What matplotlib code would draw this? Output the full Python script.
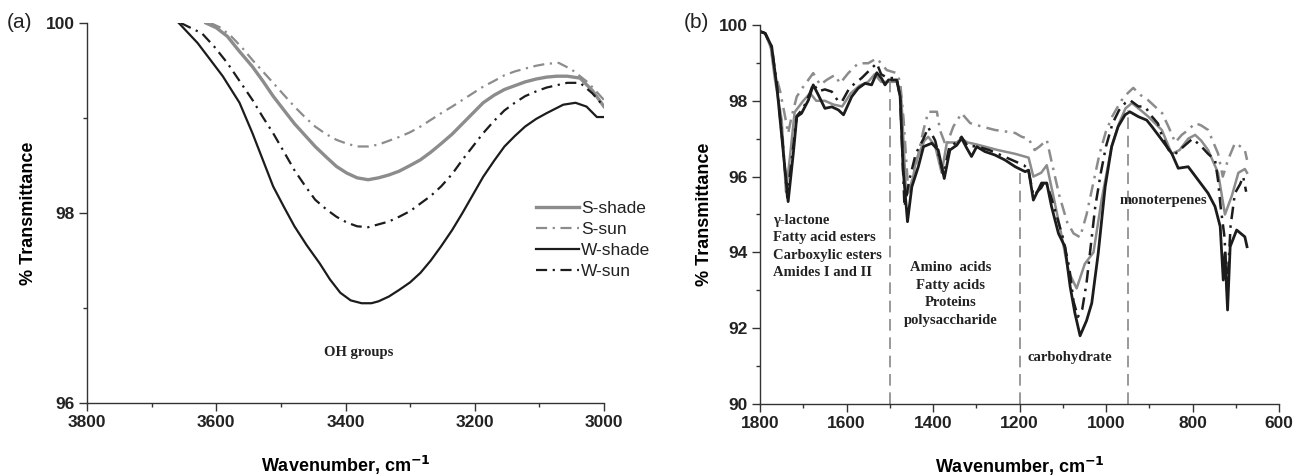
import matplotlib
matplotlib.use('Agg')
import matplotlib.pyplot as plt
from matplotlib.ticker import MultipleLocator

plt.rcParams['font.family'] = ['Liberation Sans', 'DejaVu Sans']

GRAY = '#8c8c8c'
BLACK = '#1c1c1c'
DASHDOT = (0, (5, 2.5, 1, 2.5))

# ---- panel (a): OH region ----
a_s_shade_x = [3616, 3600, 3583, 3564, 3544, 3528, 3512, 3495, 3479, 3463, 3447, 3430, 3414, 3398, 3382,
               3365, 3349, 3333, 3317, 3300, 3284, 3268, 3252, 3235, 3219, 3203, 3187, 3170, 3154,
               3138, 3122, 3105, 3089, 3073, 3057, 3037, 3018, 3000]
a_s_shade_y = [100.0, 99.95, 99.86, 99.70, 99.54, 99.39, 99.23, 99.08, 98.94, 98.82, 98.70, 98.59, 98.49, 98.42,
               98.37, 98.35, 98.37, 98.40, 98.44, 98.50, 98.56, 98.64, 98.73, 98.83, 98.94, 99.05, 99.16, 99.24,
               99.30, 99.34, 99.38, 99.41, 99.43, 99.44, 99.44, 99.42, 99.29, 99.12]

a_s_sun_x = [3609, 3593, 3577, 3560, 3544, 3528, 3512, 3495, 3479, 3463, 3447, 3430, 3414, 3398, 3382,
             3365, 3349, 3333, 3317, 3300, 3284, 3268, 3252, 3235, 3219, 3203, 3187, 3170, 3154,
             3138, 3122, 3105, 3089, 3070, 3050, 3024, 3000]
a_s_sun_y = [100.0, 99.95, 99.86, 99.74, 99.61, 99.49, 99.37, 99.24, 99.12, 99.01, 98.91, 98.83, 98.77, 98.73,
             98.70, 98.70, 98.72, 98.76, 98.80, 98.85, 98.91, 98.98, 99.05, 99.12, 99.19, 99.26, 99.33, 99.39,
             99.45, 99.49, 99.52, 99.55, 99.57, 99.58, 99.51, 99.37, 99.19]

a_w_shade_x = [3658, 3629, 3610, 3590, 3564, 3544, 3528, 3512, 3495, 3479, 3460, 3440, 3424, 3408, 3392,
               3375, 3360, 3349, 3333, 3317, 3300, 3284, 3268, 3252, 3235, 3219, 3203, 3187, 3170, 3154,
               3138, 3122, 3105, 3089, 3063, 3044, 3027, 3011, 3000]
a_w_shade_y = [100.0, 99.79, 99.62, 99.44, 99.16, 98.84, 98.56, 98.28, 98.06, 97.86, 97.66, 97.47, 97.30, 97.16, 97.08,
               97.05, 97.05, 97.07, 97.12, 97.19, 97.27, 97.37, 97.50, 97.65, 97.82, 98.00, 98.19, 98.38, 98.55, 98.70,
               98.81, 98.91, 98.99, 99.05, 99.14, 99.16, 99.12, 99.01, 99.01]

a_w_sun_x = [3655, 3622, 3603, 3583, 3564, 3544, 3528, 3512, 3495, 3479, 3463, 3447, 3430, 3414, 3398,
             3382, 3365, 3349, 3333, 3317, 3300, 3284, 3268, 3252, 3235, 3219, 3203, 3187, 3170, 3154,
             3138, 3122, 3105, 3089, 3057, 3037, 3018, 3000]
a_w_sun_y = [100.0, 99.89, 99.75, 99.58, 99.39, 99.19, 99.01, 98.84, 98.64, 98.45, 98.29, 98.14, 98.04, 97.96, 97.90,
             97.86, 97.85, 97.88, 97.91, 97.96, 98.02, 98.10, 98.18, 98.28, 98.41, 98.56, 98.70, 98.84, 98.97, 99.08,
             99.16, 99.23, 99.28, 99.32, 99.37, 99.37, 99.26, 99.12]

# ---- panel (b): fingerprint region ----
b_w_shade_x = [1800, 1788, 1773, 1761, 1746, 1735, 1723, 1715, 1704, 1688, 1677, 1665, 1650, 1634, 1619,
               1607, 1588, 1573, 1557, 1542, 1530, 1519, 1511, 1503, 1484, 1476, 1469, 1459, 1449, 1434,
               1422, 1403, 1388, 1374, 1361, 1345, 1334, 1322, 1311, 1299, 1280, 1257, 1234, 1210, 1187,
               1179, 1168, 1149, 1137, 1126, 1110, 1095, 1083, 1072, 1060, 1045, 1033, 1018, 1002, 987,
               972, 956, 945, 925, 906, 894, 871, 848, 833, 810, 787, 764, 748, 736, 729, 725, 719, 713,
               698, 679, 674]
b_w_shade_y = [99.83, 99.78, 99.43, 98.37, 96.62, 95.34, 96.62, 97.58, 97.67, 98.02, 98.42, 98.15, 97.80, 97.84, 97.76,
               97.63, 98.11, 98.33, 98.46, 98.42, 98.74, 98.59, 98.42, 98.55, 98.55, 98.11, 96.17, 94.81, 95.73, 96.26,
               96.79, 96.88, 96.70, 95.95, 96.70, 96.83, 97.01, 96.75, 96.53, 96.79, 96.66, 96.57, 96.44, 96.26, 96.13,
               96.17, 95.38, 95.83, 95.83, 95.21, 94.50, 94.15, 93.10, 92.40, 91.80, 92.20, 92.66, 93.98, 95.73, 96.79,
               97.32, 97.63, 97.71, 97.58, 97.49, 97.32, 96.97, 96.61, 96.22, 96.26, 95.91, 95.56, 95.21, 94.68, 93.27,
               93.98, 92.48, 94.15, 94.59, 94.41, 94.15]

b_w_sun_x = [1800, 1788, 1773, 1761, 1746, 1737, 1723, 1715, 1700, 1685, 1677, 1665, 1650, 1634, 1620,
             1611, 1595, 1581, 1565, 1550, 1530, 1520, 1505, 1484, 1476, 1466, 1455, 1440, 1422, 1411,
             1395, 1376, 1362, 1345, 1334, 1320, 1300, 1270, 1240, 1210, 1190, 1180, 1168, 1150, 1140,
             1128, 1115, 1100, 1085, 1075, 1065, 1055, 1045, 1035, 1025, 1012, 1000, 985, 970, 955, 945,
             925, 910, 895, 880, 870, 855, 840, 820, 800, 780, 764, 748, 741, 735, 726, 720, 712, 702,
             690, 683, 676]
b_w_sun_y = [99.83, 99.78, 99.43, 98.40, 96.70, 95.45, 96.80, 97.60, 97.80, 98.20, 98.45, 98.25, 98.30, 98.24, 98.00,
             97.97, 98.30, 98.46, 98.60, 98.77, 98.99, 98.70, 98.60, 98.60, 98.10, 95.20, 95.90, 96.60, 97.00, 97.30,
             96.95, 96.05, 96.80, 96.90, 97.05, 96.80, 96.80, 96.70, 96.55, 96.40, 96.30, 96.20, 95.50, 95.70, 95.90,
             95.50, 95.00, 94.40, 93.60, 92.70, 92.30, 92.50, 93.20, 94.20, 95.20, 96.10, 96.80, 97.40, 97.75, 97.95,
             98.02, 97.85, 97.85, 97.60, 97.40, 97.05, 96.70, 96.60, 96.80, 97.00, 96.80, 96.60, 96.44, 95.90, 95.20,
             94.40, 93.00, 94.70, 95.56, 95.80, 96.00, 95.60]

b_s_shade_x = [1800, 1788, 1775, 1766, 1750, 1740, 1730, 1720, 1700, 1684, 1670, 1650, 1630, 1610, 1590,
               1570, 1550, 1535, 1520, 1500, 1483, 1473, 1462, 1450, 1440, 1420, 1411, 1395, 1380, 1368,
               1345, 1335, 1320, 1300, 1280, 1250, 1210, 1179, 1168, 1150, 1137, 1122, 1102, 1087, 1068,
               1049, 1029, 1010, 987, 970, 955, 940, 925, 902, 871, 848, 830, 810, 794, 780, 764, 741, 725,
               709, 694, 679, 674]
b_s_shade_y = [99.83, 99.78, 99.40, 98.60, 97.50, 95.60, 96.60, 97.70, 98.00, 98.20, 98.00, 98.00, 97.90, 97.85, 98.20,
               98.40, 98.50, 98.70, 98.50, 98.50, 98.50, 98.00, 95.50, 95.70, 96.40, 96.95, 97.05, 96.80, 96.10, 96.90,
               96.90, 97.00, 96.90, 96.85, 96.79, 96.70, 96.60, 96.50, 96.00, 96.10, 96.30, 95.50, 94.40, 93.50, 93.05,
               93.70, 94.00, 95.40, 96.80, 97.40, 97.80, 97.94, 97.80, 97.58, 97.23, 96.60, 96.70, 97.00, 97.10, 96.95,
               96.70, 96.10, 95.00, 95.50, 96.10, 96.20, 96.10]

b_s_sun_x = [1800, 1788, 1775, 1765, 1754, 1742, 1735, 1727, 1715, 1700, 1677, 1661, 1646, 1627, 1615,
             1596, 1573, 1550, 1530, 1507, 1484, 1476, 1468, 1457, 1442, 1422, 1411, 1391, 1384, 1370,
             1353, 1334, 1314, 1287, 1257, 1226, 1210, 1195, 1179, 1165, 1153, 1137, 1126, 1108, 1090,
             1075, 1060, 1045, 1030, 1015, 1000, 985, 965, 950, 937, 920, 903, 870, 855, 840, 825, 810,
             794, 780, 764, 741, 730, 718, 702, 690, 679, 674]
b_s_sun_y = [99.83, 99.78, 99.40, 98.73, 98.28, 97.58, 97.14, 97.58, 98.11, 98.37, 98.73, 98.42, 98.55, 98.68, 98.46,
             98.73, 98.99, 98.99, 99.12, 98.81, 98.73, 98.50, 97.50, 95.56, 96.17, 97.23, 97.71, 97.71, 97.23, 96.80,
             97.32, 97.67, 97.41, 97.32, 97.23, 97.18, 97.15, 97.05, 97.00, 96.70, 96.80, 96.97, 96.40, 95.50, 94.80,
             94.50, 94.40, 95.00, 95.80, 96.60, 97.20, 97.60, 98.00, 98.20, 98.34, 98.15, 98.02, 97.67, 97.30, 96.90,
             97.10, 97.23, 97.41, 97.35, 97.23, 96.61, 96.00, 96.44, 96.88, 96.80, 96.70, 96.44]

# band boundaries (dashed lines) and where they stop on top
band_x = [1500, 1200, 950]
band_top = [98.56, 96.10, 97.77]


def style_axes(ax):
    for side in ['top', 'right']:
        ax.spines[side].set_visible(False)
    for side in ['left', 'bottom']:
        ax.spines[side].set_color('#333333')
        ax.spines[side].set_linewidth(1.0)
    ax.tick_params(which='major', length=6, width=1.0, color='#333333', labelsize=12.5, pad=3)
    ax.tick_params(which='minor', length=3, width=1.0, color='#333333')
    for lab in ax.get_xticklabels() + ax.get_yticklabels():
        lab.set_fontweight('bold')
        lab.set_color('#222222')


fig = plt.figure(figsize=(13.07, 4.76), dpi=100)
ax1 = fig.add_axes([0.0666, 0.1534, 0.3955, 0.7983])
ax2 = fig.add_axes([0.5815, 0.1513, 0.3971, 0.7962])

# panel (a)
ax1.plot(a_s_shade_x, a_s_shade_y, color=GRAY, lw=2.4, label='S-shade')
ax1.plot(a_s_sun_x, a_s_sun_y, color=GRAY, lw=1.6, ls=DASHDOT, label='S-sun')
ax1.plot(a_w_shade_x, a_w_shade_y, color=BLACK, lw=1.6, label='W-shade')
ax1.plot(a_w_sun_x, a_w_sun_y, color=BLACK, lw=1.6, ls=DASHDOT, label='W-sun')
ax1.set_xlim(3800, 3000)
ax1.set_ylim(96, 100)
ax1.xaxis.set_major_locator(MultipleLocator(200))
ax1.xaxis.set_minor_locator(MultipleLocator(100))
ax1.yaxis.set_major_locator(MultipleLocator(2))
ax1.yaxis.set_minor_locator(MultipleLocator(1))
style_axes(ax1)
ax1.set_xlabel('Wavenumber, cm$^{\\mathbf{-1}}$', fontsize=13, fontweight='bold', labelpad=17)
ax1.set_ylabel('% Transmittance', fontsize=13, fontweight='bold', labelpad=6)
ax1.text(3379, 96.53, 'OH groups', family='Liberation Serif', fontweight='bold',
         fontsize=10.5, ha='center', va='center', color='#222222')
leg = ax1.legend(loc='upper left', bbox_to_anchor=(0.855, 0.55), frameon=False,
                 fontsize=12.5, handlelength=2.5, handletextpad=0.1, labelspacing=0.33,
                 borderaxespad=0)
for t in leg.get_texts():
    t.set_color('#222222')
fig.text(0.005, 0.952, '(a)', fontsize=15, va='center', ha='left', color='#222222')

# panel (b)
ax2.plot(b_s_shade_x, b_s_shade_y, color=GRAY, lw=1.8)
ax2.plot(b_s_sun_x, b_s_sun_y, color=GRAY, lw=1.8, ls=DASHDOT)
ax2.plot(b_w_shade_x, b_w_shade_y, color=BLACK, lw=2.0)
ax2.plot(b_w_sun_x, b_w_sun_y, color=BLACK, lw=1.8, ls=DASHDOT)
for bx, bt in zip(band_x, band_top):
    ax2.plot([bx, bx], [90, bt], color='#888888', lw=1.2, ls=(0, (7, 4)))
ax2.set_xlim(1800, 600)
ax2.set_ylim(90, 100)
ax2.xaxis.set_major_locator(MultipleLocator(200))
ax2.xaxis.set_minor_locator(MultipleLocator(100))
ax2.yaxis.set_major_locator(MultipleLocator(2))
ax2.yaxis.set_minor_locator(MultipleLocator(1))
style_axes(ax2)
ax2.set_xlabel('Wavenumber, cm$^{\\mathbf{-1}}$', fontsize=13, fontweight='bold', labelpad=17)
ax2.set_ylabel('% Transmittance', fontsize=13, fontweight='bold', labelpad=4)

serif = dict(family='Liberation Serif', fontweight='bold', fontsize=10.5, color='#222222')
ax2.text(1770, 94.15, 'γ-lactone\nFatty acid esters\nCarboxylic esters\nAmides I and II',
         ha='left', va='center', linespacing=1.45, **serif)
ax2.text(1359, 92.9, 'Amino  acids\nFatty acids\nProteins\npolysaccharide',
         ha='center', va='center', linespacing=1.45, **serif)
ax2.text(1084, 91.23, 'carbohydrate', ha='center', va='center', **serif)
ax2.text(868, 95.38, 'monoterpenes', ha='center', va='center', **serif)
fig.text(0.523, 0.952, '(b)', fontsize=15, va='center', ha='left', color='#222222')

fig.savefig('out.png', dpi=100)
